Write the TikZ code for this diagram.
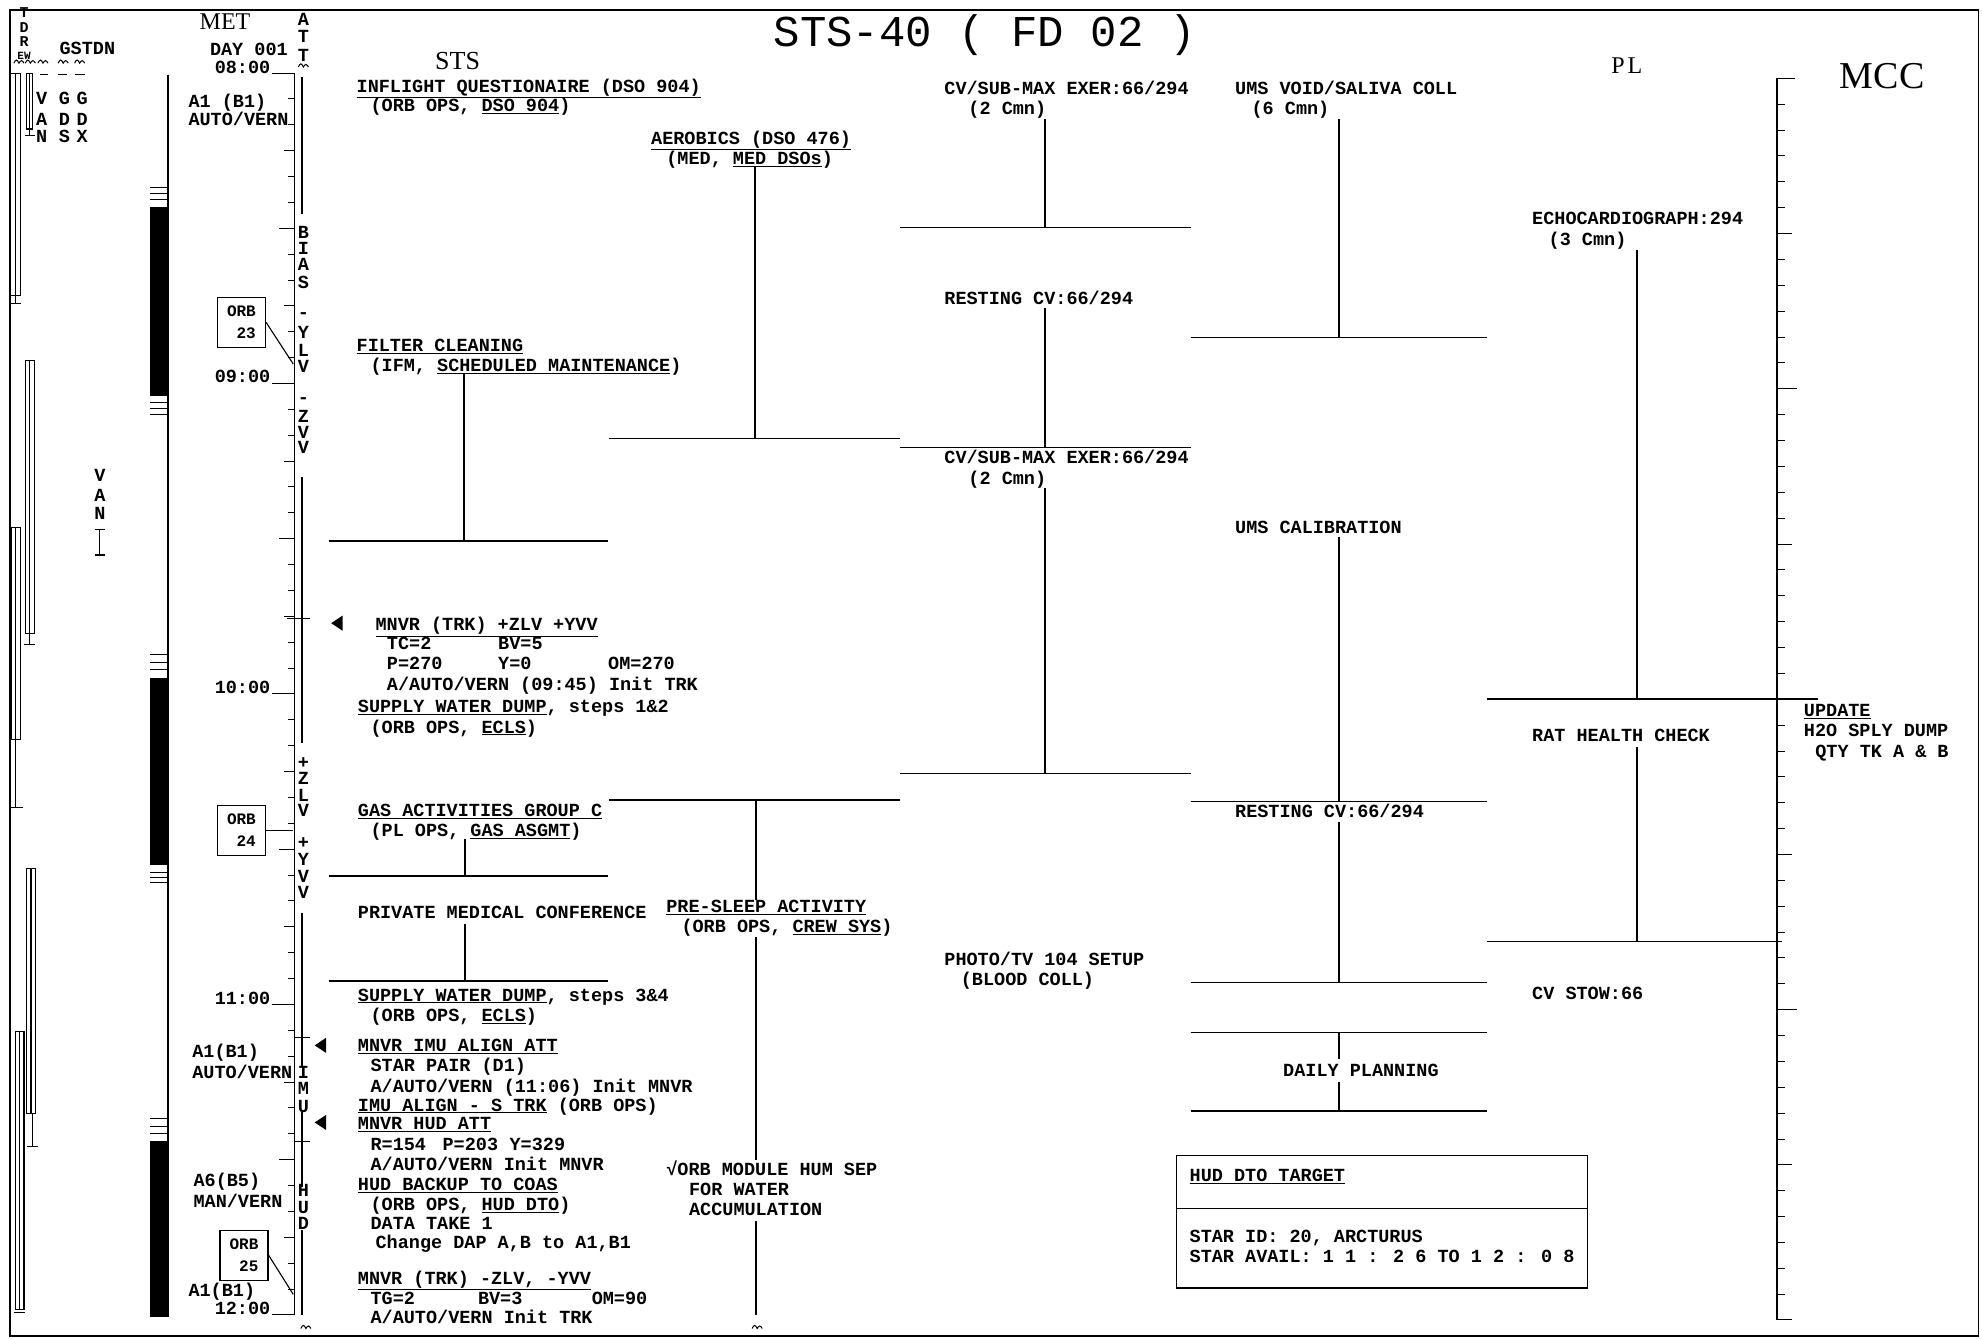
\documentclass[tikz,border=0pt]{standalone}
\usepackage{fontspec}
\setmainfont{Liberation Serif}
\newfontfamily\cmono{Liberation Mono}
\newcommand\wvmark[2]{\draw[line width=1pt] (#1,#2) sin ++(2,-2.5) cos ++(2,2.5) sin ++(2,-2) cos ++(2,2);}
\newcommand\tdbar[4]{\draw[line width=1.2pt] (#1,#3) rectangle (#2,#4);
  \draw[line width=1.2pt] ({(#1+#2)/2},#3) -- ({(#1+#2)/2},#4);}
\begin{document}
\begin{tikzpicture}[x=1.264pt,y=-1.264pt,
  tx/.style={font=\cmono\bfseries\fontsize{18.5}{20}\selectfont, anchor=base west, inner sep=0pt, yshift=-5pt},
  tc/.style={tx, anchor=base},
  tr/.style={tx, anchor=base east},
  vl/.style={line width=1.8pt},
  hl/.style={line width=1.3pt},
  tk/.style={line width=1pt},
  orb/.style={draw, line width=1.3pt, font=\cmono\bfseries\fontsize{16}{18}\selectfont, align=center, minimum width=48pt, minimum height=50pt, inner sep=2pt},
  hdr/.style={font=\fontsize{#1}{#1}\selectfont, inner sep=0pt},
]
\useasboundingbox (0,0) rectangle (1568,1059);
\fill[white] (0,0) rectangle (1568,1059);
\draw[line width=1.4pt] (8,8) rectangle (1565,1057);

% headers
\node[font=\cmono\fontsize{44}{44}\selectfont, anchor=base west, inner sep=0pt] (title) at (612,37) {STS-40 ( FD 02 )};
\node[hdr=24] (met) at (178,17) {MET};
\node[hdr=26] (sts) at (362,48) {STS};
\node[hdr=24] (pl) at (1287,52) {P\hspace{3pt}L};
\node[hdr=38] (mcc) at (1489,60) {MCC};

% TDRS / GSTDN
\foreach \l/\yy [count=\k] in {T/10,D/22,R/33}
  \node[tc, font=\cmono\bfseries\fontsize{15}{15}\selectfont] (tdrs\k) at (19,\yy) {\l};
\node[tc, font=\cmono\bfseries\fontsize{11}{11}\selectfont] (tdrsew) at (19,43) {EW};
\node[tx] (gstdn) at (47,39) {GSTDN};
\foreach \l/\yy [count=\k] in {V/79,A/95,N/109} \node[tc] (van\k) at (33,\yy) {\l};
\foreach \l/\yy [count=\k] in {G/79,D/95,S/109} \node[tc] (gds\k) at (51,\yy) {\l};
\foreach \l/\yy [count=\k] in {G/79,D/95,X/109} \node[tc] (gdx\k) at (65,\yy) {\l};
\wvmark{11}{50}\wvmark{20}{50}\wvmark{30}{50}\wvmark{46}{50}\wvmark{59}{50}
\draw[tk] (32,59)--(38,59) (46,59)--(53,59) (59,59)--(67,59);
\tdbar{8}{16}{58}{234}   \draw[tk] (12,234)--(12,240) (8,240)--(17,240);
\tdbar{21}{26}{58}{102}  \draw[tk] (23.5,102)--(23.5,107) (20,107)--(28,107);
\tdbar{20}{27}{285}{501} \draw[tk] (23.5,501)--(23.5,510) (19,510)--(28,510);
\tdbar{9}{16}{417}{585}  \draw[tk] (12.5,585)--(12.5,639) (9,639)--(18,639);
\tdbar{21}{28}{687}{881} \draw[tk] (26,881)--(26,907) (21,907)--(30,907);
\tdbar{12}{19}{816}{1036} \draw[tk] (11,1038)--(20,1038);
\foreach \l/\yy [count=\k] in {V/377,A/393,N/407} \node[tc] (van2\k) at (79,\yy) {\l};
\draw[line width=1.2pt] (79,419)--(79,439) (75,419)--(83,419) (75,439)--(83,439);

% night/day bars
\draw[line width=1.5pt] (133,59) -- (133,1042);
\fill (119,164) rectangle (133,313);
\fill (119,536) rectangle (133,684);
\fill (119,903) rectangle (133,1042);
\foreach \yy in {148,153,158,318,323,328,518,524,530,690,694,698,885,891,897}
  \draw[line width=0.9pt] (119,\yy) -- (133,\yy);

% MET axis
\draw[line width=1.5pt] (233,58) -- (233,1040);
\foreach \i in {0,...,48}{%
  \pgfmathsetmacro\tkyy{57.8+20.467*\i}%
  \pgfmathtruncatemacro\tka{mod(\i,12)}%
  \pgfmathtruncatemacro\tkb{mod(\i,6)}%
  \pgfmathtruncatemacro\tkc{mod(\i,3)}%
  \ifnum\tka=0 \def\tklen{18}\else\ifnum\tkb=0 \def\tklen{12}\else\ifnum\tkc=0 \def\tklen{8}\else\def\tklen{5}\fi\fi\fi
  \draw[tk] ({233-\tklen},\tkyy) -- (233,\tkyy);
}
\node[tx] (day) at (166,40) {DAY 001};
\node[tr] (h08) at (214,54) {08:00};
\node[tr] (h09) at (214,299) {09:00};
\node[tr] (h10) at (214,545) {10:00};
\node[tr] (h11) at (214,791) {11:00};
\node[tr] (h12) at (214,1036) {12:00};
\node[tx] (dap1) at (149,81) {A1 (B1)};
\node[tx] (dap1b) at (149,95) {AUTO/VERN};
\node[tx] (dap2) at (152,833) {A1(B1)};
\node[tx] (dap2b) at (152,849) {AUTO/VERN};
\node[tx] (dap3) at (153,935) {A6(B5)};
\node[tx] (dap3b) at (153,951) {MAN/VERN};
\node[tx] (dap4) at (149,1022) {A1(B1)};
\node[orb] (orb23) at (191,255) {ORB\\[4pt]\hspace*{0.6em}23};
\node[orb] (orb24) at (191,657) {ORB\\[4pt]\hspace*{0.6em}24};
\node[orb] (orb25) at (193,993) {ORB\\[4pt]\hspace*{0.6em}25};
\coordinate (o23e) at (232,288);
\coordinate (o24e) at (232,657);
\coordinate (o25e) at (232,1024);
\draw[line width=1.1pt] (orb23.east) -- (o23e);
\draw[line width=1.1pt] (orb24.east) -- (o24e);
\draw[line width=1.1pt] (orb25.east) -- (o25e);

% ATT column
\foreach \l/\yy [count=\k] in {A/16,T/30,T/45} \node[tc] (att\k) at (240,\yy) {\l};
\wvmark{236}{53}
\foreach \l/\yy [count=\k] in {B/185,I/197,A/210,S/224,-/248,Y/264,L/278,V/291,-/315,Z/330,V/343,V/355}
  \node[tc] (bias\k) at (240,\yy) {\l};
\foreach \l/\yy [count=\k] in {+/604,Z/617,L/630,V/642,+/667,Y/681,V/694,V/707}
  \node[tc] (zlv\k) at (240,\yy) {\l};
\foreach \l/\yy [count=\k] in {I/849,M/862,U/876,H/943,U/956,D/969}
  \node[tc] (imu\k) at (240,\yy) {\l};
\draw[line width=1.5pt] (239,61)--(239,169) (239,377)--(239,588) (239,722)--(239,844)
  (239,880)--(239,939) (239,973)--(239,1040);
\draw[tk] (227,489)--(245,489) (233,821)--(245,821) (233,903)--(245,903);
\wvmark{238}{1051}

% STS column
\node[tx] (iq1) at (282,69) {\underline{INFLIGHT QUESTIONAIRE (DSO 904)}};
\node[tx] (iq2) at (293,84) {(ORB OPS, \underline{DSO 904})};
\node[tx] (aer1) at (515,110) {\underline{AEROBICS (DSO 476)}};
\node[tx] (aer2) at (527,126) {(MED, \underline{MED DSOs})};
\draw[vl] (597,131) -- (597,347);
\draw[hl] (482,347) -- (712,347);
\node[tx] (fc1) at (282,274) {\underline{FILTER CLEANING}};
\node[tx] (fc2) at (293,290) {(IFM, \underline{SCHEDULED MAINTENANCE})};
\draw[vl] (367,296) -- (367,428);
\draw[hl] (260,428) -- (481,428);
\fill (262,493) -- (271,487) -- (271,499) -- cycle;
\node[tx] (mv1) at (297,495) {\underline{MNVR (TRK) +ZLV +YVV}};
\node[tx] (mv2) at (306,510) {TC=2};
\node[tx] (mv3) at (394,510) {BV=5};
\node[tx] (mv4) at (306,526) {P=270};
\node[tx] (mv5) at (394,526) {Y=0};
\node[tx] (mv6) at (481,526) {OM=270};
\node[tx] (mv7) at (306,542) {A/AUTO/VERN (09:45) Init TRK};
\node[tx] (sw1) at (283,560) {\underline{SUPPLY WATER DUMP}, steps 1\&2};
\node[tx] (sw2) at (293,576) {(ORB OPS, \underline{ECLS})};
\draw[hl] (482,633) -- (712,633);
\draw[vl] (598,633) -- (598,712);
\node[tx] (gas1) at (283,642) {\underline{GAS ACTIVITIES GROUP C}};
\node[tx] (gas2) at (293,658) {(PL OPS, \underline{GAS ASGMT})};
\draw[vl] (368,664) -- (368,693);
\draw[hl] (260,693) -- (481,693);
\node[tx] (pmc) at (283,723) {PRIVATE MEDICAL CONFERENCE};
\draw[vl] (368,731) -- (368,776);
\draw[hl] (260,776) -- (481,776);
\node[tx] (ps1) at (527,718) {\underline{PRE-SLEEP ACTIVITY}};
\node[tx] (ps2) at (539,734) {(ORB OPS, \underline{CREW SYS})};
\draw[vl] (598,741) -- (598,918);
\node[tx] (hum1) at (527,926) {√ORB MODULE HUM SEP};
\node[tx] (hum2) at (545,942) {FOR WATER};
\node[tx] (hum3) at (545,958) {ACCUMULATION};
\draw[vl] (598,966) -- (598,1040);
\wvmark{595}{1051}
\node[tx] (sw3) at (283,788) {\underline{SUPPLY WATER DUMP}, steps 3\&4};
\node[tx] (sw4) at (293,804) {(ORB OPS, \underline{ECLS})};
\fill (249,827) -- (258,821) -- (258,833) -- cycle;
\node[tx] (ia1) at (283,828) {\underline{MNVR IMU ALIGN ATT}};
\node[tx] (ia2) at (293,844) {STAR PAIR (D1)};
\node[tx] (ia3) at (293,860) {A/AUTO/VERN (11:06) Init MNVR};
\node[tx] (ia4) at (283,875) {\underline{IMU ALIGN - S TRK} (ORB OPS)};
\fill (249,888) -- (258,882) -- (258,894) -- cycle;
\node[tx] (hd1) at (283,890) {\underline{MNVR HUD ATT}};
\node[tx] (hd2) at (293,906) {R=154};
\node[tx] (hd2b) at (350,906) {P=203};
\node[tx] (hd2c) at (403,906) {Y=329};
\node[tx] (hd3) at (293,922) {A/AUTO/VERN Init MNVR};
\node[tx] (hd4) at (283,938) {\underline{HUD BACKUP TO COAS}};
\node[tx] (hd5) at (293,954) {(ORB OPS, \underline{HUD DTO})};
\node[tx] (hd6) at (293,969) {DATA TAKE 1};
\node[tx] (hd7) at (297,984) {Change DAP A,B to A1,B1};
\node[tx] (tr1) at (283,1012) {\underline{MNVR (TRK) -ZLV, -YVV}};
\node[tx] (tr2) at (293,1028) {TG=2};
\node[tx] (tr3) at (378,1028) {BV=3};
\node[tx] (tr4) at (468,1028) {OM=90};
\node[tx] (tr5) at (293,1043) {A/AUTO/VERN Init TRK};

% column 3
\node[tx] (cv1) at (747,71) {CV/SUB-MAX EXER:66/294};
\node[tx] (cv2) at (766,87) {(2 Cmn)};
\draw[vl] (827,94) -- (827,180);
\draw[hl] (712,180) -- (942,180);
\node[tx] (rc1) at (747,237) {RESTING CV:66/294};
\draw[vl] (827,244) -- (827,354);
\draw[hl] (712,354) -- (942,354);
\node[tx] (cv3) at (747,363) {CV/SUB-MAX EXER:66/294};
\node[tx] (cv4) at (766,379) {(2 Cmn)};
\draw[vl] (827,386) -- (827,612);
\draw[hl] (712,612) -- (942,612);
\node[tx] (ph1) at (747,760) {PHOTO/TV 104 SETUP};
\node[tx] (ph2) at (760,776) {(BLOOD COLL)};

% column 4
\node[tx] (ums1) at (977,71) {UMS VOID/SALIVA COLL};
\node[tx] (ums2) at (990,87) {(6 Cmn)};
\draw[vl] (1059,94) -- (1059,267);
\draw[hl] (942,267) -- (1176,267);
\node[tx] (umc) at (977,418) {UMS CALIBRATION};
\draw[vl] (1059,425) -- (1059,634);
\draw[hl] (942,634) -- (1176,634);
\node[tx] (rc2) at (977,643) {RESTING CV:66/294};
\draw[vl] (1059,650) -- (1059,777);
\draw[hl] (942,777) -- (1176,777);
\draw[hl] (942,817) -- (1176,817);
\draw[vl] (1059,817) -- (1059,838);
\node[tx] (dp) at (1015,848) {DAILY PLANNING};
\draw[vl] (1059,856) -- (1059,879);
\draw[hl] (942,879) -- (1176,879);

% column 5 (PL)
\node[tx] (echo1) at (1212,174) {ECHOCARDIOGRAPH:294};
\node[tx] (echo2) at (1225,190) {(3 Cmn)};
\draw[vl] (1295,198) -- (1295,553);
\draw[hl] (1176,553) -- (1438,553);
\node[tx] (rat) at (1212,583) {RAT HEALTH CHECK};
\draw[vl] (1295,591) -- (1295,745);
\draw[hl] (1176,745) -- (1410,745);
\node[tx] (cvs) at (1212,787) {CV STOW:66};

% HUD DTO box
\draw[hl] (931,914) rectangle (1256,1019);
\draw[hl] (931,956) -- (1256,956);
\node[tx] (hdt) at (941,931) {\underline{HUD DTO TARGET}};
\node[tx] (sid) at (941,979) {STAR ID: 20, ARCTURUS};
\node[tx] (sav) at (941,995) {STAR AVAIL: 1 1 : 2 6 TO 1 2 : 0 8};

% MCC axis
\draw[line width=1.5pt] (1420,62) -- (1406,62) -- (1406,1044) -- (1418,1044);
\foreach \i in {1,...,47}{%
  \pgfmathsetmacro\tkyy{62+20.467*\i}%
  \pgfmathtruncatemacro\tka{mod(\i,12)}%
  \pgfmathtruncatemacro\tkb{mod(\i,6)}%
  \ifnum\tka=0 \def\tklen{16}\else\ifnum\tkb=0 \def\tklen{12}\else\def\tklen{6}\fi\fi
  \draw[tk] (1406,\tkyy) -- ({1406+\tklen},\tkyy);
}
\node[tx] (upd) at (1427,563) {\underline{UPDATE}};
\node[tx] (h2o) at (1427,579) {H2O SPLY DUMP};
\node[tx] (qty) at (1436,595) {QTY TK A \& B};
\end{tikzpicture}
\end{document}
